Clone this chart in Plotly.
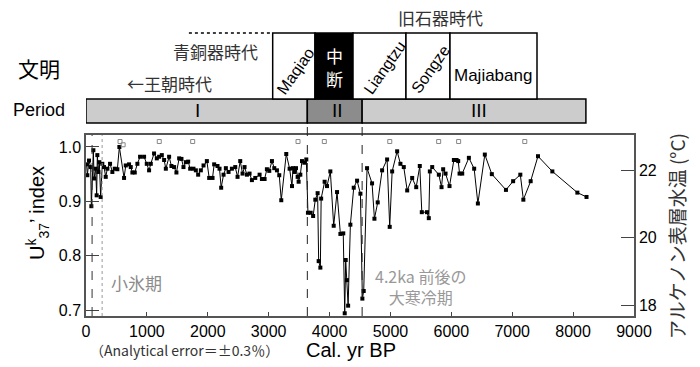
import plotly.graph_objects as go

# ---------------- data ----------------
age = [10, 22, 49, 77, 88, 121, 132, 159, 175, 186, 203, 219, 241, 268, 296, 324, 351, 395, 433, 472,
       515, 548, 625, 653, 707, 735, 762, 801, 844, 888, 954, 998, 1036, 1064, 1118, 1163, 1201, 1245,
       1283, 1311, 1365, 1403, 1447, 1485, 1530, 1568, 1601, 1640, 1678, 1711, 1765, 1804, 1842, 1886,
       1930, 1985, 2023, 2078, 2105, 2160, 2193, 2220, 2259, 2297, 2341, 2396, 2451, 2489, 2533, 2571,
       2604, 2643, 2686, 2725, 2780, 2851, 2889, 2933, 2971, 3010, 3054, 3092, 3136, 3174, 3207, 3289,
       3344, 3383, 3399, 3426, 3449, 3476, 3492, 3520, 3547, 3586, 3618,
       3645, 3690, 3730, 3766, 3804, 3821, 3849, 3862, 3919, 3958, 4013, 4068, 4123, 4178, 4225, 4249,
       4265, 4285, 4305, 4342, 4397, 4452, 4507, 4539, 4561, 4616, 4698, 4737, 4791, 4863, 4945, 4988,
       5028, 5110, 5164, 5219, 5275, 5357, 5423, 5482, 5515, 5600, 5630, 5647, 5686, 5795, 5839, 5866,
       5905, 5970, 6042, 6086, 6113, 6135, 6179, 6288, 6375, 6436, 6550, 6665, 6897, 7015, 7133, 7183,
       7303, 7423, 7659, 8070, 8220]
uk37 = [0.968, 0.948, 0.975, 0.963, 0.891, 0.994, 0.942, 0.960, 0.911, 0.985, 0.954, 0.972, 0.908, 0.969,
        0.963, 0.945, 0.960, 0.969, 0.954, 0.960, 0.959, 1.000, 0.943, 0.966, 0.968, 0.963, 0.953, 0.953,
        0.969, 0.982, 0.982, 0.969, 0.957, 0.969, 0.988, 0.979, 0.982, 0.985, 0.976, 0.960, 0.982, 0.965,
        0.963, 0.953, 0.979, 0.978, 0.963, 0.972, 0.973, 0.960, 0.960, 0.957, 0.949, 0.957, 0.966, 0.974,
        0.943, 0.943, 0.968, 0.965, 0.960, 0.925, 0.949, 0.961, 0.954, 0.960, 0.963, 0.945, 0.974, 0.951,
        0.963, 0.949, 0.951, 0.939, 0.943, 0.949, 0.941, 0.941, 0.959, 0.956, 0.974, 0.961, 0.957, 0.948,
        0.902, 0.987, 0.960, 0.928, 0.961, 0.954, 0.961, 0.945, 0.936, 0.949, 0.974, 0.971, 0.977,
        0.879, 0.879, 0.873, 0.903, 0.915, 0.790, 0.778, 0.905, 0.936, 0.928, 0.955, 0.855, 0.917, 0.840,
        0.841, 0.694, 0.792, 0.755, 0.708, 0.857, 0.925, 0.938, 0.914, 0.721, 0.735, 0.961, 0.933, 0.868,
        0.898, 0.957, 0.977, 0.853, 0.955, 0.992, 0.969, 0.963, 0.920, 0.943, 0.926, 0.965, 0.880, 0.880,
        0.869, 0.955, 0.963, 0.949, 0.926, 0.959, 0.951, 0.928, 0.976, 0.976, 0.974, 0.951, 0.951, 0.980,
        0.960, 0.896, 0.986, 0.950, 0.921, 0.937, 0.949, 0.903, 0.937, 0.983, 0.955, 0.916, 0.908]

date_age = [559, 610, 1203, 1752, 3482, 3914, 4989, 5792, 6120, 7206]
date_val = [1.010, 1.004, 1.010, 1.010, 1.010, 1.010, 1.010, 1.010, 1.010, 1.010]

x_ticks = [0, 1000, 2000, 3000, 4000, 5000, 6000, 7000, 8000, 9000]
y_ticks = [0.7, 0.8, 0.9, 1.0]
y_ticklabels = ["0.7", "0.8", "0.9", "1.0"]
t_ticks = [18, 20, 22]

lia_lines = [100, 265]
event_lines = [3635, 4535]

periods = ["I", "II", "III"]
period_start = [0, 3635, 4535]
period_end = [3635, 4535, 8210]
period_label_x = [1825, 4128, 6447]

cultures = ["Maqiao", "中断", "Liangtzu", "Songze", "Majiabang"]
culture_start = [3066, 3761, 4385, 5255, 5978]
culture_end = [3761, 4385, 5255, 5978, 7407]

# ---------------- layout helpers ----------------
OFF = 8                       # page body margin
W, H = 700 - OFF, 367 - OFF
L, T = 86 - OFF, 135 - OFF
R, B = 66, 51
PW, PH = W - L - R, H - T - B


def px(xp):
    return (xp - OFF - L) / PW


def py(yp):
    return (H - B - (yp - OFF)) / PH


FONT = "Arial, Liberation Sans, sans-serif"
JFONT = "Noto Sans CJK JP, sans-serif"

fig = go.Figure()

fig.add_trace(go.Scatter(x=age, y=uk37, mode="lines+markers",
                         line=dict(color="black", width=1),
                         marker=dict(symbol="square", size=4, color="black"),
                         showlegend=False, hoverinfo="skip"))
fig.add_trace(go.Scatter(x=date_age, y=date_val, mode="markers",
                         marker=dict(symbol="square-open", size=4, color="#888888",
                                     line=dict(width=1)),
                         showlegend=False, hoverinfo="skip"))
fig.add_trace(go.Scatter(x=[None], y=[None], yaxis="y2", mode="markers", showlegend=False,
                         hoverinfo="skip"))

shapes = []
for i, xv in enumerate(lia_lines):
    shapes.append(dict(type="line", xref="x", yref="paper", x0=xv, x1=xv, y0=0, y1=1,
                       line=dict(color="#333333" if i == 0 else "#999999", width=1,
                                 dash="dash" if i == 0 else "dot")))
bar_top, bar_bot = py(99), py(123)
box_top = py(33)
for xv in event_lines:
    shapes.append(dict(type="line", xref="x", yref="paper", x0=xv, x1=xv, y0=0, y1=bar_bot,
                       line=dict(color="#222222", width=1, dash="dash")))
pcol = ["#cccccc", "#8c8c8c", "#cccccc"]
for s, e, c in zip(period_start, period_end, pcol):
    shapes.append(dict(type="rect", xref="x", yref="paper", x0=s, x1=e, y0=bar_bot, y1=bar_top,
                       fillcolor=c, line=dict(color="black", width=1.5)))
for name, s, e in zip(cultures, culture_start, culture_end):
    fill = "black" if name == "中断" else "white"
    shapes.append(dict(type="rect", xref="x", yref="paper", x0=s, x1=e, y0=bar_top, y1=box_top,
                       fillcolor=fill, line=dict(color="black", width=1.5)))
shapes.append(dict(type="line", xref="x", yref="paper", x0=1690, x1=culture_start[0],
                   y0=box_top, y1=box_top, line=dict(color="black", width=1.5, dash="dot")))

ann = []


def add(text, x, y, size, color="black", font=FONT, angle=0):
    ann.append(dict(text=text, x=x, y=y, xref="paper", yref="paper", showarrow=False,
                    font=dict(size=size, color=color, family=font), textangle=angle,
                    xanchor="center", yanchor="middle"))


add("文明", px(39), py(68), 21, font=JFONT)
add("Period", px(39), py(110), 18)
add("青銅器時代", px(215), py(52), 17, color="#333333", font=JFONT)
add("←王朝時代", px(169), py(83), 17, color="#333333", font=JFONT)
add("旧石器時代", px(440), py(17), 17, color="#333333", font=JFONT)
add("Maqiao", px(295), py(71), 16, angle=-55)
add("中", px(334), py(55), 17, color="white", font=JFONT)
add("断", px(334), py(78), 17, color="white", font=JFONT)
add("Liangtzu", px(385), py(68), 16, angle=-55)
add("Songze", px(430), py(69), 16, angle=-55)
add("Majiabang", px(493), py(75), 17)
for p, xv in zip(periods, period_label_x):
    ann.append(dict(text=p, x=xv, y=py(111), xref="x", yref="paper", showarrow=False,
                    xanchor="center", yanchor="middle",
                    font=dict(size=19, color="black", family=FONT)))
add("小氷期", px(136), py(282), 17, color="#8c8c8c", font=JFONT)
add("4.2ka 前後の<br>大寒冷期", px(421), py(286.5), 16, color="#999999", font=JFONT)
add("（Analytical error＝±0.3％）", px(184), py(350), 14, color="#333333", font=JFONT)
add("Cal. yr BP", px(351), py(350), 20)
add("U<sup>k</sup><sub>37</sub>’ index", px(37), py(213), 20, angle=-90)
add("アルケノン表層水温 (°C)", px(676), py(236), 19, color="#333333", font=JFONT, angle=-90)

fig.update_layout(
    width=W, height=H,
    margin=dict(l=L, r=R, t=T, b=B, pad=0),
    paper_bgcolor="white", plot_bgcolor="white",
    shapes=shapes, annotations=ann,
    xaxis=dict(range=[0, 9000], tickvals=x_ticks, ticks="inside", ticklen=4, tickcolor="#444444",
               showline=True, linecolor="#555555", linewidth=1.5, mirror=True, showgrid=False,
               zeroline=False, tickfont=dict(size=16, family=FONT, color="black")),
    yaxis=dict(range=[0.689, 1.022], tickvals=y_ticks, ticktext=y_ticklabels, ticks="inside",
               ticklen=13, tickcolor="#444444", showline=True, linecolor="#555555", linewidth=1.5,
               mirror=True, showgrid=False, zeroline=False,
               tickfont=dict(size=16, family=FONT, color="black")),
    yaxis2=dict(range=[17.674, 23.046], tickvals=t_ticks, overlaying="y", side="right",
                ticks="inside", ticklen=13, tickcolor="#444444", showline=True, linecolor="#555555",
                linewidth=1.5, showgrid=False, zeroline=False,
                tickfont=dict(size=16, family=FONT, color="black")),
)

fig.write_html("out.html")
